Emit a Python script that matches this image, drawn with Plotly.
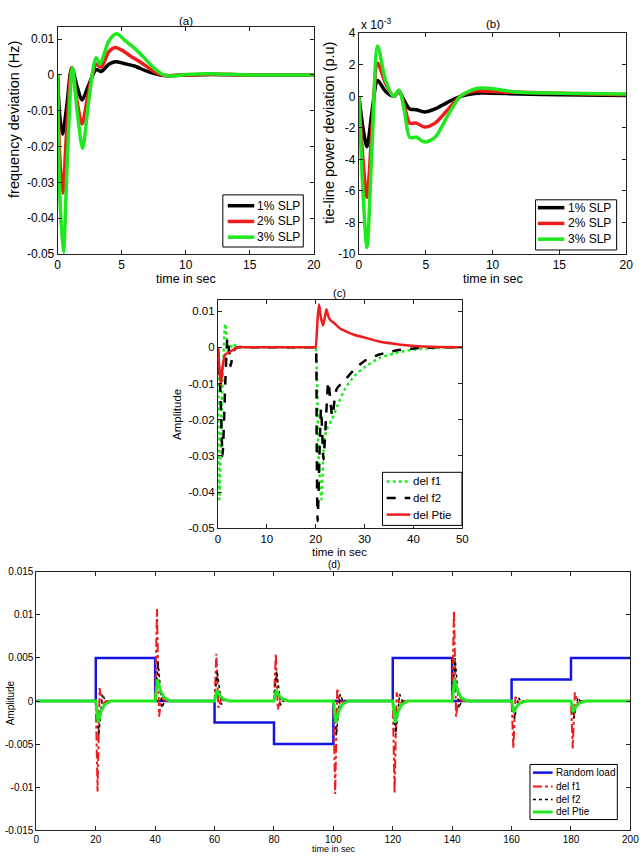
import plotly.graph_objects as go

# ---------------- Panel (a): frequency deviation ----------------
a_t1 = [0, 0.15, 0.38, 0.7, 1.1, 1.5, 1.9, 2.4, 3.0, 3.4, 4.0, 4.5, 5.2, 6.0, 7.0, 8.0, 8.7, 10, 12, 15, 20]
a_v1 = [0, -0.011, -0.0165, -0.009, 0.002, -0.003, -0.007, -0.003, 0.0015, 0.001, 0.003, 0.0037, 0.0032, 0.0025, 0.001, 0.0, -0.0002, 0.0, 0.0001, 0.0, 0.0]
a_t2 = [0, 0.15, 0.4, 0.7, 1.1, 1.5, 1.9, 2.4, 3.0, 3.4, 4.0, 4.5, 5.2, 5.8, 6.5, 7.5, 8.2, 8.7, 10, 12, 15, 20]
a_v2 = [0, -0.022, -0.033, -0.016, 0.002, -0.007, -0.0137, -0.005, 0.003, 0.0022, 0.0065, 0.0077, 0.0065, 0.005, 0.0035, 0.001, 0.0, -0.0002, 0.0, 0.0002, 0.0, 0.0]
a_t3 = [0, 0.15, 0.45, 0.75, 1.15, 1.55, 1.95, 2.4, 3.0, 3.3, 4.0, 4.6, 5.3, 6.0, 6.7, 7.5, 8.3, 8.8, 10, 11, 12.5, 15, 20]
a_v3 = [0, -0.032, -0.0495, -0.024, 0.002, -0.011, -0.0205, -0.008, 0.0048, 0.003, 0.0095, 0.0115, 0.0095, 0.0075, 0.005, 0.002, 0.0, -0.0003, 0.0001, 0.0003, 0.0003, 0.0, 0.0]
a_yticks = [-0.05, -0.04, -0.03, -0.02, -0.01, 0, 0.01]
a_ylabels = ["-0.05", "-0.04", "-0.03", "-0.02", "-0.01", "0", "0.01"]
a_names = ["1% SLP", "2% SLP", "3% SLP"]

# ---------------- Panel (b): tie-line power deviation (x 1e-3) ----------------
b_t = [0, 0.3, 0.6, 1.0, 1.4, 2.0, 2.6, 3.0, 3.4, 3.8, 4.3, 4.9, 5.7, 6.6, 7.6, 8.8, 9.8, 12, 15, 20]
b_v1 = [0, -2.0, -3.2, -0.8, 1.0, 0.3, 0.0, 0.3, -0.3, -0.8, -0.85, -1.0, -0.8, -0.4, 0.0, 0.2, 0.2, 0.15, 0.1, 0.05]
b_v2 = [0, -4.0, -6.4, -1.8, 2.1, 0.8, 0.0, 0.35, -0.6, -1.7, -1.7, -1.95, -1.7, -0.9, 0.0, 0.35, 0.3, 0.25, 0.2, 0.1]
b_v3 = [0, -6.0, -9.6, -2.8, 3.2, 1.0, 0.0, 0.4, -0.9, -2.6, -2.6, -2.9, -2.6, -1.3, 0.0, 0.5, 0.5, 0.25, 0.2, 0.15]
b_yticks = [-10, -8, -6, -4, -2, 0, 2, 4]

# ---------------- Panel (c) ----------------
c_t_f1 = [0, 0.3, 0.8, 1.5, 2.2, 3.0, 4.0, 6, 10, 15, 19.9, 20, 20.3, 20.6, 21.2, 21.8, 22.5, 23.3, 24.5, 26, 28, 30, 33, 36, 40, 45, 50]
c_f1 = [0, -0.042, -0.015, 0.0065, -0.002, 0.001, 0, 0, 0, 0, 0, 0, -0.01, -0.03, -0.042, -0.025, -0.022, -0.02, -0.016, -0.0115, -0.0078, -0.0055, -0.003, -0.0017, -0.0006, -0.0002, 0]
c_t_f2 = [0, 0.5, 0.95, 1.5, 1.95, 2.3, 2.6, 3.2, 4.0, 6, 10, 15, 19.9, 20, 20.2, 20.4, 21.1, 21.6, 22.1, 22.6, 23.4, 24.3, 26, 28, 30, 33, 36, 40, 45, 50]
c_f2 = [0, -0.012, -0.03, -0.01, 0.0025, -0.001, -0.0052, -0.001, 0, 0, 0, 0, 0, 0, -0.025, -0.048, -0.017, -0.031, -0.02, -0.0095, -0.019, -0.0115, -0.009, -0.006, -0.0038, -0.002, -0.001, -0.0003, 0, 0]
c_t_p = [0, 0.3, 0.6, 1.0, 1.5, 2.2, 3.0, 4.0, 6, 10, 15, 19.9, 20, 20.4, 20.7, 21.1, 21.5, 21.9, 22.2, 22.6, 23.0, 23.6, 25, 26.5, 28, 30, 33, 37, 41, 45, 50]
c_p = [0, -0.006, -0.0105, -0.005, -0.002, -0.0015, -0.0008, 0, 0, 0, 0, 0, 0, 0.008, 0.0118, 0.008, 0.006, 0.0085, 0.0105, 0.0085, 0.0075, 0.0069, 0.0052, 0.0042, 0.0034, 0.0027, 0.0016, 0.0008, 0.0003, 0.0001, 0]
c_yticks = [-0.05, -0.04, -0.03, -0.02, -0.01, 0, 0.01]
c_ylabels = ["-0.05", "-0.04", "-0.03", "-0.02", "-0.01", "0", "0.01"]
c_names = ["del f1", "del f2", "del Ptie"]

# ---------------- Panel (d) ----------------
d_t_load = [0, 20, 40, 60, 80, 100, 120, 140, 160, 180, 200]
d_load = [0, 0.005, 0, -0.0025, -0.005, 0, 0.005, 0, 0.0025, 0.005, 0.005]
d_t_f1 = [0, 20, 20.6, 21.3, 22.2, 23.5, 40, 40.6, 41.3, 42.2, 43.5, 60, 60.6, 61.3, 62.2, 63.5,
          80, 80.6, 81.3, 82.2, 83.5, 100, 100.6, 101.3, 102.2, 103.5, 120, 120.6, 121.3, 122.2, 123.5,
          140, 140.6, 141.3, 142.2, 143.5, 160, 160.6, 161.3, 162.2, 163.5, 180, 180.6, 181.3, 182.2, 183.5, 200]
d_f1 = [0, 0, -0.0105, 0.0015, -0.0004, 0, 0, 0.0107, -0.0018, 0.0004, 0, 0, 0.0055, -0.0008, 0.0002, 0,
        0, 0.0055, -0.001, 0.0002, 0, 0, -0.0108, 0.0015, -0.0004, 0, 0, -0.0107, 0.001, -0.0004, 0,
        0, 0.0105, -0.0018, 0.0004, 0, 0, -0.0055, 0.0005, -0.0002, 0, 0, -0.0055, 0.001, -0.0002, 0, 0]
d_t_f2 = [0, 20, 21.0, 22.3, 23.5, 25, 40, 41.0, 42.3, 43.5, 45, 60, 60.9, 62.3, 63.5, 65,
          80, 80.9, 82.3, 83.5, 85, 100, 101.0, 102.3, 103.5, 105, 120, 121.0, 122.3, 123.5, 125,
          140, 141.0, 142.3, 143.5, 145, 160, 161.0, 162.3, 163.5, 165, 180, 181.0, 182.3, 183.5, 185, 200]
d_f2 = [0, 0, -0.004, 0.0008, -0.0003, 0, 0, 0.0045, -0.0008, 0.0003, 0, 0, 0.0035, -0.0004, 0.0002, 0,
        0, 0.0035, -0.0005, 0.0002, 0, 0, -0.004, 0.0008, -0.0003, 0, 0, -0.004, 0.0008, -0.0003, 0,
        0, 0.005, -0.0008, 0.0003, 0, 0, -0.002, 0.0004, -0.0002, 0, 0, -0.002, 0.0004, -0.0002, 0, 0]
d_t_p = [0, 20, 20.8, 21.8, 23, 25, 40, 40.8, 41.8, 43, 45, 60, 60.8, 61.8, 63, 65,
         80, 80.8, 81.8, 83, 85, 100, 100.8, 101.8, 103, 105, 120, 120.8, 121.8, 123, 125,
         140, 140.8, 141.8, 143, 145, 160, 160.8, 161.8, 163, 165, 180, 180.8, 181.8, 183, 185, 200]
d_p = [0, 0, -0.0025, -0.0012, -0.0004, 0, 0, 0.0025, 0.0012, 0.0004, 0, 0, 0.0013, 0.0006, 0.0002, 0,
       0, 0.0013, 0.0006, 0.0002, 0, 0, -0.0025, -0.0012, -0.0004, 0, 0, -0.0025, -0.0012, -0.0004, 0,
       0, 0.0025, 0.0012, 0.0004, 0, 0, -0.0013, -0.0006, -0.0002, 0, 0, -0.0013, -0.0006, -0.0002, 0, 0]
d_yticks = [-0.015, -0.01, -0.005, 0, 0.005, 0.01, 0.015]
d_ylabels = ["-0.015", "-0.01", "-0.005", "0", "0.005", "0.01", "0.015"]
d_xticks = [0, 20, 40, 60, 80, 100, 120, 140, 160, 180, 200]
d_names = ["Random load", "del f1", "del f2", "del Ptie"]

W, H = 644, 860
FONT = "Liberation Sans, Arial, Helvetica, sans-serif"
GREEN = "#1fe81f"
RED = "#ee1c1c"
BLUE = "#1414e6"


def px_x(p):
    return p / W


def px_y(p):
    return 1 - p / H


fig = go.Figure()

a_styles = [("black", 3.5), (RED, 3.5), (GREEN, 3.5)]
# (a)
for t, v, name, (col, w) in zip([a_t1, a_t2, a_t3], [a_v1, a_v2, a_v3], a_names, a_styles):
    fig.add_trace(go.Scatter(x=t, y=v, name=name, mode="lines", line=dict(color=col, width=w, shape="spline", smoothing=0.8),
                             xaxis="x", yaxis="y", showlegend=False))
# (b)
for v, name, (col, w) in zip([b_v1, b_v2, b_v3], a_names, a_styles):
    fig.add_trace(go.Scatter(x=b_t, y=[q * 1e-3 for q in v], name=name, mode="lines",
                             line=dict(color=col, width=w, shape="spline", smoothing=0.8),
                             xaxis="x2", yaxis="y2", showlegend=False))
# (c)
c_styles = [(GREEN, 2.5, "dot"), ("black", 2.5, "dash"), (RED, 2.5, "solid")]
for t, v, name, (col, w, dsh) in zip([c_t_f1, c_t_f2, c_t_p], [c_f1, c_f2, c_p], c_names, c_styles):
    fig.add_trace(go.Scatter(x=t, y=v, name=name, mode="lines",
                             line=dict(color=col, width=w, dash=dsh, shape="spline", smoothing=0.6),
                             xaxis="x3", yaxis="y3", showlegend=False))
# (d)
d_styles = [(BLUE, 2.5, "solid"), (RED, 2, "dashdot"), ("black", 1.5, "dot"), (GREEN, 3, "solid")]
for t, v, name, (col, w, dsh), shp in zip([d_t_load, d_t_f1, d_t_f2, d_t_p], [d_load, d_f1, d_f2, d_p], d_names, d_styles,
                                          ["hv", "linear", "linear", "linear"]):
    fig.add_trace(go.Scatter(x=t, y=v, name=name, mode="lines", line=dict(color=col, width=w, dash=dsh, shape=shp),
                             xaxis="x4", yaxis="y4", showlegend=False))


def ax(domain, rng, tickvals=None, ticktext=None, size=11, anchor=None):
    d = dict(domain=domain, range=rng, showline=True, linecolor="#222", linewidth=1, mirror="ticks",
             ticks="inside", ticklen=4, tickcolor="#222", showgrid=False, zeroline=False,
             tickfont=dict(family=FONT, size=size, color="black"), anchor=anchor, fixedrange=True)
    if tickvals is not None:
        d["tickmode"] = "array"
        d["tickvals"] = tickvals
        d["ticktext"] = ticktext if ticktext is not None else [str(t) for t in tickvals]
    return d


fig.update_layout(
    width=W, height=H, margin=dict(l=0, r=0, t=0, b=0),
    paper_bgcolor="white", plot_bgcolor="white",
    font=dict(family=FONT, color="black"),
    showlegend=False,
    xaxis=ax([px_x(55.7), px_x(316.7)], [0, 20], [0, 5, 10, 15, 20], size=12, anchor="y"),
    yaxis=ax([px_y(251), px_y(20.7)], [-0.05, 0.0133], a_yticks, a_ylabels, size=12, anchor="x"),
    xaxis2=ax([px_x(362.7), px_x(635)], [0, 20], [0, 5, 10, 15, 20], size=12, anchor="y2"),
    yaxis2=ax([px_y(251), px_y(26.7)], [-0.010, 0.004], [q * 1e-3 for q in b_yticks], [str(q) for q in b_yticks], size=12, anchor="x2"),
    xaxis3=ax([px_x(219), px_x(468)], [0, 50], [0, 10, 20, 30, 40, 50], size=11.5, anchor="y3"),
    yaxis3=ax([px_y(530), px_y(297.7)], [-0.05, 0.0131], c_yticks, c_ylabels, size=11.5, anchor="x3"),
    xaxis4=ax([px_x(34), px_x(639.3)], [0, 200], d_xticks, size=10, anchor="y4"),
    yaxis4=ax([px_y(836.7), px_y(574.3)], [-0.015, 0.015], d_yticks, d_ylabels, size=10, anchor="x4"),
)

shapes = []
annotations = []


def add_legend(box, row_ys, names, styles, line_x, text_x, size):
    x0, y0, x1, y1 = box
    shapes.append(dict(type="rect", xref="paper", yref="paper", x0=px_x(x0), x1=px_x(x1), y0=px_y(y1), y1=px_y(y0),
                       fillcolor="white", line=dict(color="black", width=1), layer="above"))
    for y, name, st in zip(row_ys, names, styles):
        col, w = st[0], st[1]
        dsh = st[2] if len(st) > 2 else "solid"
        shapes.append(dict(type="line", xref="paper", yref="paper", x0=px_x(line_x[0]), x1=px_x(line_x[1]),
                           y0=px_y(y), y1=px_y(y), line=dict(color=col, width=w, dash=dsh), layer="above"))
        annotations.append(dict(text=name, x=px_x(text_x), y=px_y(y), xref="paper", yref="paper", showarrow=False,
                                xanchor="left", yanchor="middle", font=dict(family=FONT, size=size, color="black")))


add_legend((224, 191, 306, 244), [202, 218, 234], a_names, a_styles, (229, 256), 257, 12)
add_legend((542.7, 196, 625.3, 247), [204, 220, 236], a_names, a_styles, (545, 572), 574, 12)
add_legend((386.7, 473, 467.7, 527), [482.3, 499, 516], c_names, c_styles, (391, 415), 416, 11.5)
add_legend((537, 770, 626, 826), [778.3, 792.3, 805.7, 818.3], d_names, d_styles, (540, 560), 561, 10)

ann = [
    ("(a)", 186, 14, 11.5, 0), ("(b)", 499, 17, 11.5, 0), ("(c)", 343, 291, 11, 0), ("(d)", 337, 567, 10, 0),
    ("time in sec", 186, 277, 12.5, 0), ("time in sec", 499, 277, 12.5, 0), ("time in sec", 343, 554, 11.5, 0),
    ("time in sec", 337, 856, 9, 0),
    ("frequency deviation (Hz)", 11, 114, 14.5, -90), ("tie-line power deviation (p.u)", 332, 128, 14.5, -90),
    ("Amplitude", 178, 414, 11.5, -90), ("Amplitude", 8, 707, 10, -90),
]
for text, x, y, s, ang in ann:
    annotations.append(dict(text=text, x=px_x(x), y=px_y(y), xref="paper", yref="paper", showarrow=False,
                            xanchor="center", yanchor="middle", textangle=ang,
                            font=dict(family=FONT, size=s, color="black")))
annotations.append(dict(text="x 10<sup>-3</sup>", x=px_x(363), y=px_y(17), xref="paper", yref="paper",
                        showarrow=False, xanchor="left", yanchor="middle", font=dict(family=FONT, size=12, color="black")))
fig.update_layout(annotations=annotations, shapes=shapes)

fig.write_html("out.html")
